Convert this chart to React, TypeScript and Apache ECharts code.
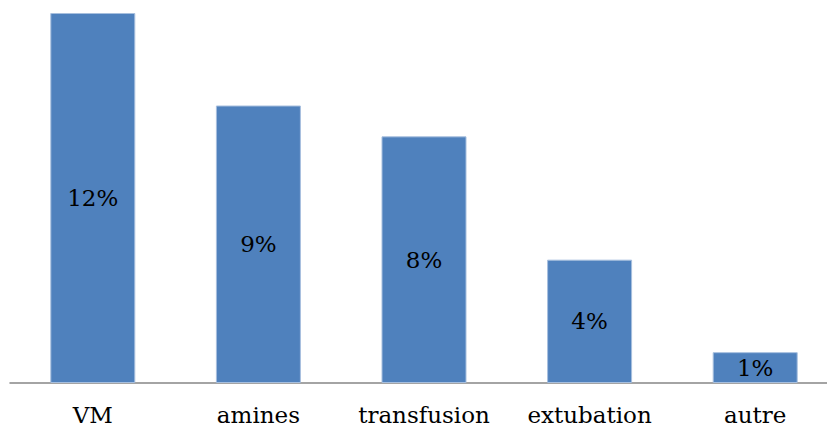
import React, { useEffect, useRef } from "react";
import * as echarts from "echarts";

// Share of cases per category (%)
const categories = ["VM", "amines", "transfusion", "extubation", "autre"];
const percentages = [12, 9, 8, 4, 1];

const FONT = "'DejaVu Serif', serif";

export default function App() {
  const ref = useRef<HTMLDivElement>(null);

  useEffect(() => {
    if (!ref.current) return;
    const chart = echarts.init(ref.current, undefined, { renderer: "svg" });
    chart.setOption({
      animation: false,
      grid: {
        left: 10,
        top: 13,
        width: 828,
        bottom: 47,
        containLabel: false,
        outerBoundsMode: "none",
      },
      xAxis: {
        type: "category",
        data: categories,
        axisLine: { show: true, lineStyle: { color: "#868686", width: 1.5 } },
        axisTick: { show: false },
        axisLabel: {
          interval: 0,
          color: "#000",
          fontFamily: FONT,
          fontSize: 23,
          margin: 20,
        },
      },
      yAxis: {
        type: "value",
        min: 0,
        max: 12,
        show: false,
        splitLine: { show: false },
      },
      series: [
        {
          type: "bar",
          data: percentages,
          barWidth: 85,
          itemStyle: {
            color: "#4F81BD",
            borderColor: "#A7BFDE",
            borderWidth: 1,
          },
          label: {
            show: true,
            position: "inside",
            formatter: (p: any) => `${p.value}%`,
            color: "#000",
            fontFamily: FONT,
            fontSize: 23,
          },
        },
      ],
    });
    return () => chart.dispose();
  }, []);

  return (
    <div
      ref={ref}
      style={{ position: "fixed", left: 0, top: 0, width: 827, height: 430, background: "#fff" }}
    />
  );
}
